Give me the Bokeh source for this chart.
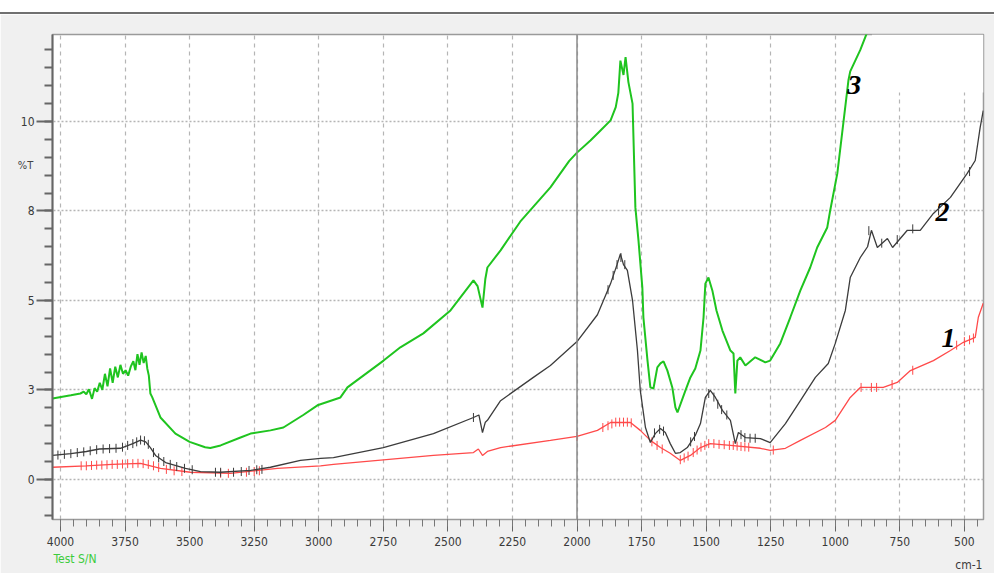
import math
from bokeh.plotting import figure
from bokeh.models import Range1d, FixedTicker, Span, Label, Div, BoxAnnotation
from bokeh.layouts import column
from bokeh.embed import file_html
from bokeh.resources import INLINE

# ---------------- data (wavenumber cm-1, %T) ----------------
green_wn = [4031, 3960, 3923, 3910, 3900, 3890, 3878, 3868, 3858, 3848, 3838, 3828, 3818,
            3808, 3798, 3788, 3778, 3768, 3758, 3748, 3738, 3728, 3718, 3710, 3702, 3694,
            3686, 3678, 3670, 3664, 3658, 3652, 3645, 3613, 3555, 3500, 3440,
            3420, 3380, 3303, 3264, 3187, 3137, 3060, 3005, 2916, 2889, 2749, 2684, 2595,
            2490, 2401, 2385, 2366, 2355, 2347, 2296, 2220, 2103, 2030, 2000, 1948, 1909,
            1870, 1850, 1840, 1832, 1820, 1812, 1801, 1785, 1774, 1762, 1747, 1743, 1727,
            1716, 1704, 1689, 1677, 1665, 1650, 1631, 1619, 1611, 1580, 1561, 1542, 1522,
            1510, 1503, 1491, 1476, 1460, 1437, 1406, 1394, 1387, 1379, 1368, 1348, 1310,
            1271, 1252, 1213, 1174, 1135, 1097, 1070, 1031, 1020, 992, 969, 949, 942, 903,
            876, 860]
green_t = [2.26, 2.35, 2.40, 2.45, 2.38, 2.52, 2.25, 2.55, 2.45, 2.70, 2.50, 2.95, 2.60,
           3.10, 2.70, 3.15, 2.85, 3.20, 2.95, 3.05, 2.90, 3.15, 3.30, 3.05, 3.50, 3.20,
           3.55, 3.25, 3.45, 3.10, 2.90, 2.40, 2.30, 1.73, 1.28, 1.05, 0.9,
           0.88, 0.95, 1.17, 1.28, 1.37, 1.45, 1.8, 2.07, 2.29, 2.57, 3.32, 3.69, 4.08,
           4.72, 5.56, 5.4, 4.8, 5.6, 5.92, 6.4, 7.2, 8.16, 8.9, 9.13, 9.47, 9.75,
           10.03, 10.4, 10.8, 11.7, 11.3, 11.8, 11.1, 10.5, 7.6, 6.68, 5.36, 4.53, 3.32,
           2.57, 2.54, 3.13, 3.24, 3.3, 3.04, 2.57, 2.01, 1.87, 2.49, 2.85, 3.1, 3.6,
           4.53, 5.47, 5.64, 5.28, 4.72, 4.16, 3.6, 3.52, 2.4, 3.32, 3.41, 3.18, 3.41,
           3.27, 3.32, 3.8, 4.53, 5.28, 5.92, 6.48, 7.04, 7.5, 8.55, 9.94, 11.15, 11.4, 12.0,
           12.5, 13.0]

black_wn = [4031, 3960, 3900, 3850, 3768, 3720, 3690, 3670, 3652, 3632, 3593, 3516, 3458,
            3381, 3264, 3187, 3071, 2993, 2943, 2750, 2556, 2401, 2380, 2366, 2355, 2347,
            2296, 2169, 2103, 2000, 1921, 1870, 1845, 1832, 1820, 1805, 1785, 1766, 1755,
            1735, 1716, 1697, 1677, 1658, 1639, 1619, 1600, 1573, 1542, 1522, 1503, 1484,
            1464, 1437, 1406, 1387, 1375, 1348, 1290, 1252, 1193, 1135, 1077, 1027, 1000,
            961, 942, 903, 875, 860, 837, 798, 778, 721, 671, 620, 554, 489, 458, 439, 427]
black_t = [0.67, 0.72, 0.78, 0.85, 0.87, 1.0, 1.1, 1.05, 0.89, 0.67, 0.47, 0.31, 0.22,
           0.2, 0.25, 0.34, 0.53, 0.59, 0.61, 0.89, 1.28, 1.73, 1.8, 1.31, 1.6, 1.65,
           2.2, 2.85, 3.18, 3.85, 4.6, 5.47, 6.0, 6.3, 6.0, 5.84, 5.0, 3.6, 2.49,
           1.45, 1.03, 1.28, 1.42, 1.31, 1.0, 0.73, 0.75, 0.89, 1.23, 1.56, 2.29, 2.49,
           2.29, 1.93, 1.65, 1.0, 1.31, 1.17, 1.14, 1.03, 1.56, 2.2, 2.85, 3.24, 3.8,
           4.72, 5.64, 6.2, 6.5, 6.96, 6.48, 6.73, 6.48, 6.96, 6.96, 7.43, 7.88, 8.55, 8.91, 9.83, 10.3]

red_wn = [4031, 3900, 3800, 3690, 3613, 3497, 3342, 3160, 2993, 2943, 2556, 2401, 2382,
          2366, 2347, 2296, 2103, 2000, 1921, 1870, 1793, 1755, 1716, 1677, 1639, 1600,
          1561, 1522, 1484, 1406, 1290, 1252, 1193, 1135, 1038, 1000, 942, 903, 814, 760,
          709, 620, 554, 504, 458, 446, 427]
red_t = [0.34, 0.38, 0.42, 0.45, 0.31, 0.2, 0.17, 0.31, 0.38, 0.42, 0.67, 0.75, 0.85,
         0.67, 0.78, 0.89, 1.09, 1.2, 1.37, 1.59, 1.59, 1.37, 1.09, 0.89, 0.73, 0.53,
         0.67, 0.89, 1.0, 0.95, 0.87, 0.81, 0.87, 1.09, 1.45, 1.65, 2.29, 2.57, 2.57, 2.71,
         3.04, 3.32, 3.6, 3.83, 3.97, 4.53, 4.92]

# noise tick marks seen on traces 1 and 2 (wavenumber, %T)
black_tick_wn = [4010, 3985, 3960, 3935, 3910, 3885, 3860, 3835, 3810, 3785, 3760, 3740,
                 3720, 3705, 3690, 3675, 3660, 3640, 3620, 3600, 3575, 3550, 3520, 3490,
                 3400, 3380, 3330, 3300, 3270, 3240, 3220, 2401,
                 1880, 1860, 1845, 1830, 1815, 1700, 1680, 1665, 1560, 1545, 1490, 1470,
                 1455, 1440, 1420, 1365, 1350, 1330, 1310, 870, 820, 760, 700, 600, 480]
black_tick_t = [0.68, 0.70, 0.72, 0.75, 0.77, 0.80, 0.83, 0.85, 0.86, 0.87, 0.90, 0.95,
                1.00, 1.05, 1.10, 1.08, 0.98, 0.75, 0.60, 0.50, 0.42, 0.36, 0.31, 0.27,
                0.20, 0.20, 0.20, 0.22, 0.25, 0.27, 0.28, 1.73,
                5.30, 5.70, 6.00, 6.20, 6.00, 1.30, 1.40, 1.35, 1.05, 1.20, 2.40, 2.30,
                2.10, 1.95, 1.80, 1.25, 1.17, 1.15, 1.15, 6.95, 6.60, 6.70, 7.00, 7.50, 8.60]
red_tick_wn = [3920, 3900, 3880, 3860, 3840, 3820, 3800, 3780, 3760, 3740, 3720, 3700,
               3680, 3660, 3640, 3620, 3590, 3560, 3530, 3380, 3350, 3280, 3250, 3230, 2000,
               1900, 1880, 1865, 1850, 1835, 1820, 1805, 1790, 1710, 1690, 1670, 1600, 1585,
               1570, 1550, 1535, 1520, 1505, 1490, 1470, 1450, 1430, 1410, 1395, 1380, 1365,
               1350, 1335, 1240, 900, 860, 840, 780, 700, 530, 500, 480, 465]
red_tick_t = [0.38, 0.38, 0.39, 0.40, 0.40, 0.41, 0.42, 0.42, 0.43, 0.44, 0.44, 0.45,
              0.44, 0.42, 0.38, 0.33, 0.28, 0.24, 0.22, 0.17, 0.17, 0.20, 0.22, 0.24, 1.20,
              1.45, 1.50, 1.55, 1.60, 1.60, 1.60, 1.60, 1.58, 1.05, 0.95, 0.85, 0.55, 0.60,
              0.65, 0.75, 0.82, 0.90, 0.95, 1.00, 1.00, 0.98, 0.97, 0.95, 0.95, 0.93, 0.92,
              0.91, 0.90, 0.82, 2.57, 2.57, 2.57, 2.65, 3.05, 3.75, 3.85, 3.90, 3.95]

x_major = [4000, 3750, 3500, 3250, 3000, 2750, 2500, 2250, 2000, 1750, 1500, 1250, 1000, 750, 500]
x_minor = list(range(450, 4050, 50))
y_major = [0, 2.5, 5, 7.5, 10]
y_labels = {0: "0", 2.5: "3", 5: "5", 7.5: "8", 10: "10"}
y_minor = [v * 0.5 for v in range(-2, 25)]

series_labels = ["1", "2", "3"]
label_pos_x = [562, 585, 926]
label_pos_y = [3.94, 7.46, 11.03]

# ---------------- figure ----------------
p = figure(width=994, height=559, output_backend="svg", toolbar_location=None,
           x_range=Range1d(4031, 426), y_range=Range1d(-1.12, 12.43),
           min_border_left=52, min_border_right=11, min_border_top=20, min_border_bottom=54)
p.border_fill_color = "#f0f0f0"
p.background_fill_color = "white"
p.outline_line_color = "#9a9a9a"
p.outline_line_width = 1.5

TICK_FONT = "DejaVu Sans Condensed, Liberation Sans"

# x axis
xa = p.xaxis[0]
xa.ticker = FixedTicker(ticks=x_major, minor_ticks=x_minor)
xa.axis_line_color = None
xa.major_tick_in = 0
xa.major_tick_out = 12
xa.minor_tick_in = 0
xa.minor_tick_out = 7
xa.major_tick_line_color = "#666666"
xa.minor_tick_line_color = "#777777"
xa.major_label_text_font = TICK_FONT
xa.major_label_text_font_size = "12px"
xa.major_label_text_color = "#3a3a3a"
xa.major_label_standoff = 5

# y axis
ya = p.yaxis[0]
ya.ticker = FixedTicker(ticks=y_major, minor_ticks=y_minor)
ya.major_label_overrides = y_labels
ya.axis_line_color = "#666666"
ya.axis_line_width = 2
ya.major_tick_in = 0
ya.major_tick_out = 16
ya.major_tick_line_width = 2
ya.minor_tick_in = 0
ya.minor_tick_out = 8
ya.minor_tick_line_width = 2
ya.major_tick_line_color = "#666666"
ya.minor_tick_line_color = "#666666"
ya.major_label_text_font = TICK_FONT
ya.major_label_text_font_size = "12px"
ya.major_label_text_color = "#3a3a3a"
ya.major_label_standoff = 2

# grids
p.xgrid.grid_line_color = "#b5b5b5"
p.xgrid.grid_line_dash = "4 4"
p.xgrid.grid_line_width = 1.2
p.ygrid.grid_line_color = "#b5b5b5"
p.ygrid.grid_line_dash = "2 2"
p.ygrid.grid_line_width = 1.5

p.add_layout(Span(location=2000, dimension="height", line_color="#8a8a8a", line_width=1.5))

# curves
p.line(red_wn, red_t, line_color="#ff4a4a", line_width=1.3)
p.scatter(red_tick_wn, red_tick_t, marker="dash", angle=math.pi / 2, size=9,
          line_color="#ff4a4a", line_width=1)
p.line(black_wn, black_t, line_color="#3c3c3c", line_width=1.3)
p.scatter(black_tick_wn, black_tick_t, marker="dash", angle=math.pi / 2, size=9,
          line_color="#3c3c3c", line_width=1)
p.line(green_wn, green_t, line_color="#1fc41f", line_width=2)

# white patch covering the top-right corner of the chart (drawn above the grid)
p.add_layout(BoxAnnotation(left=858, right=426, bottom=10.81, top=12.43, fill_color="white",
                           fill_alpha=1.0, line_color=None))

# series numbers
for t, x, y in zip(series_labels, label_pos_x, label_pos_y):
    p.add_layout(Label(x=x, y=y, text=t, text_font="Liberation Serif", text_font_style="bold italic",
                       text_font_size="28px", text_color="black", text_align="center",
                       text_baseline="middle"))

# axis decorations, each in its own side panel so they are not clipped by the frame
p.add_layout(Label(x=23, y=354, x_units="screen", y_units="screen", text="%T",
                   text_font=TICK_FONT, text_font_size="11px",
                   text_color="#444444", text_align="center", text_baseline="middle"), "left")
p.add_layout(Label(x=4027, y=-2.21, text="Test S/N",
                   text_font=TICK_FONT, text_font_size="12px",
                   text_color="#3ccc3c", text_align="left", text_baseline="middle"), "above")
p.add_layout(Label(x=430, y=-2.39, text="cm-1",
                   text_font=TICK_FONT, text_font_size="12px",
                   text_color="#3a3a3a", text_align="right", text_baseline="middle"), "below")

top_bar = Div(text="", width=994, height=14, margin=0,
              styles={"background": "white", "border-bottom": "2px solid #707070",
                      "box-sizing": "border-box"})

layout = column(top_bar, p, spacing=0)

open("out.html", "w").write(file_html(layout, INLINE))
